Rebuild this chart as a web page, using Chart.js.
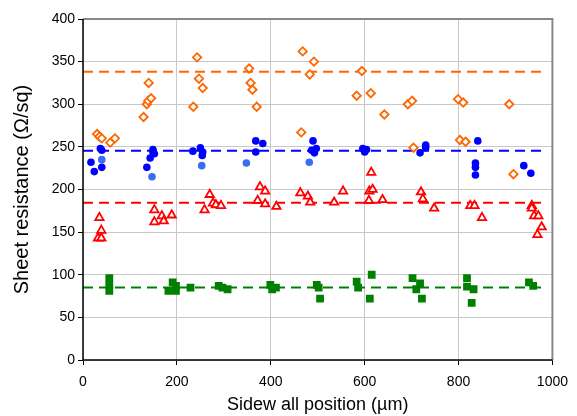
<!DOCTYPE html>
<html>
<head>
<meta charset="utf-8">
<script src="https://cdn.jsdelivr.net/npm/chart.js@4/dist/chart.umd.min.js"></script>
<style>
  html, body { margin: 0; padding: 0; background: #fff; }
  #wrap { width: 577px; height: 416px; }
</style>
</head>
<body>
<div id="wrap"><canvas id="sheetChart"></canvas></div>
<script>
// positions in um, sheet resistance in ohm/sq
var orangeX = [30, 35, 40, 58, 68, 129, 136, 139, 145, 140, 235, 243, 247, 255, 354, 357, 361, 370, 465, 468, 492, 483, 583, 594, 613, 642, 692, 701, 704, 799, 810, 803, 815, 908, 917];
var orangeY = [265, 262, 260, 255, 260, 285, 300, 304, 307, 325, 297, 355, 330, 319, 342, 325, 317, 297, 267, 362, 350, 335, 310, 339, 313, 288, 300, 304, 249, 306, 302, 258, 256, 300, 218];

var blueX = [17, 24, 37, 40, 40, 136, 143, 149, 149, 152, 234, 250, 255, 254, 368, 368, 383, 490, 487, 493, 497, 596, 600, 604, 718, 730, 730, 841, 836, 836, 836, 939, 954];
var blueY = [232, 221, 248, 246, 226, 226, 237, 247, 244, 242, 245, 249, 244, 240, 257, 244, 254, 257, 246, 243, 248, 248, 244, 247, 243, 252, 249, 257, 231, 226, 217, 228, 219];

var lightBlueX = [40, 147, 253, 348, 482];
var lightBlueY = [235, 215, 228, 231, 232];

var redX = [35, 39, 32, 39, 152, 152, 168, 172, 189, 259, 270, 277, 283, 294, 377, 388, 372, 388, 412, 463, 479, 484, 535, 554, 614, 610, 617, 609, 638, 720, 724, 748, 825, 834, 850, 956, 956, 961, 970, 977, 968];
var redY = [167, 152, 143, 143, 176, 162, 169, 163, 170, 176, 194, 184, 182, 181, 203, 198, 187, 183, 180, 196, 192, 185, 185, 198, 220, 198, 200, 187, 188, 197, 189, 178, 181, 181, 167, 181, 178, 169, 169, 156, 147];

var greenX = [56, 56, 56, 191, 182, 198, 198, 229, 289, 297, 308, 399, 403, 411, 498, 502, 505, 583, 586, 615, 611, 702, 718, 710, 722, 818, 818, 832, 828, 950, 959];
var greenY = [96, 88, 81, 91, 81, 87, 81, 85, 87, 85, 83, 88, 83, 85, 88, 85, 72, 92, 85, 100, 72, 96, 90, 83, 72, 96, 86, 83, 67, 91, 87];

var meanLevels = [338, 245.5, 184.5, 85];
var meanColors = ['#ff6600', '#0000ff', '#ff0000', '#008000'];
var meanStartX = 0;
var meanEndX = 980;

function toPoints(xs, ys) {
    return xs.map((x, i) => ({ x: x, y: ys[i] }));
}

function meanLine(level, color) {
    return {
        type: 'line',
        data: [{ x: meanStartX, y: level }, { x: meanEndX, y: level }],
        borderColor: color,
        borderWidth: 2,
        borderDash: [10, 6],
        pointRadius: 0,
        fill: false,
        order: 10
    };
}

var plotFrame = {
    id: 'plotFrame',
    afterDraw(chart) {
        var a = chart.chartArea;
        var ctx = chart.ctx;
        ctx.save();
        ctx.strokeStyle = '#888';
        ctx.lineWidth = 2;
        ctx.beginPath();
        ctx.moveTo(a.left, a.top);
        ctx.lineTo(a.right, a.top);
        ctx.lineTo(a.right, a.bottom);
        ctx.stroke();
        ctx.strokeStyle = '#000';
        ctx.lineWidth = 1.5;
        ctx.beginPath();
        ctx.moveTo(a.left, a.top);
        ctx.lineTo(a.left, a.bottom);
        ctx.lineTo(a.right, a.bottom);
        ctx.stroke();
        ctx.restore();
    }
};

var tickFont = { family: '"Liberation Sans", Arial, sans-serif', size: 14 };

var CHART = new Chart(document.getElementById('sheetChart'), {
    type: 'scatter',
    data: {
        datasets: [
            { data: toPoints(orangeX, orangeY), pointStyle: 'rectRot', pointRadius: 4.2,
              borderColor: '#ff6600', backgroundColor: '#ffffff', borderWidth: 1.8, order: 1 },
            { data: toPoints(blueX, blueY), pointStyle: 'circle', pointRadius: 3.8,
              borderColor: '#0000ff', backgroundColor: '#0000ff', borderWidth: 0, order: 1 },
            { data: toPoints(lightBlueX, lightBlueY), pointStyle: 'circle', pointRadius: 3.8,
              borderColor: '#3a6cf4', backgroundColor: '#3a6cf4', borderWidth: 0, order: 1 },
            { data: toPoints(redX, redY), pointStyle: 'triangle', pointRadius: 4.8,
              borderColor: '#ff0000', backgroundColor: '#ffffff', borderWidth: 1.8, order: 1 },
            { data: toPoints(greenX, greenY), pointStyle: 'rect', pointRadius: 5.5,
              borderColor: '#008000', backgroundColor: '#008000', borderWidth: 0, order: 1 }
        ].concat(meanLevels.map((v, i) => meanLine(v, meanColors[i])))
    },
    options: {
        responsive: true,
        maintainAspectRatio: false,
        animation: false,
        layout: { padding: { top: 19, right: 16, left: 0, bottom: 0 } },
        plugins: { legend: { display: false }, tooltip: { enabled: false } },
        scales: {
            x: {
                type: 'linear', min: 0, max: 1000,
                ticks: { stepSize: 200, color: '#000', font: tickFont, padding: 9, maxRotation: 0,
                         callback: v => String(v) },
                grid: { color: '#c8c8c8', tickColor: '#000', tickLength: 5 },
                border: { display: false },
                title: { display: true, text: 'Sidew all position (µm)', color: '#000',
                         font: { family: '"Liberation Sans", Arial, sans-serif', size: 18 },
                         padding: { top: 0, bottom: 0 } },
                afterFit: function (s) { s.height = 56; }
            },
            y: {
                min: 0, max: 400,
                ticks: { stepSize: 50, color: '#000', font: tickFont, padding: 3 },
                grid: { color: '#c8c8c8', tickColor: '#000', tickLength: 5 },
                border: { display: false },
                title: { display: true, text: 'Sheet resistance (Ω/sq)', color: '#000',
                         font: { family: '"Liberation Sans", Arial, sans-serif', size: 20 },
                         padding: { top: 10, bottom: 0 } },
                afterFit: function (s) { s.width = 83; }
            }
        }
    },
    plugins: [plotFrame]
});
</script>
</body>
</html>
